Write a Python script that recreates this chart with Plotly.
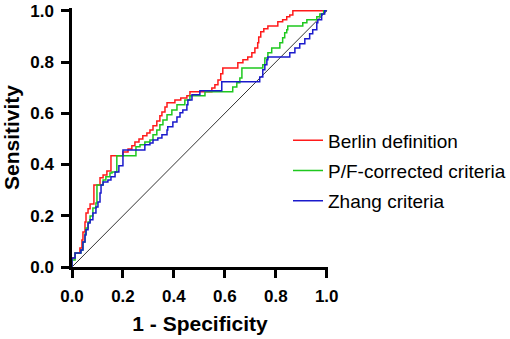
import plotly.graph_objects as go

# ROC curves (1 - specificity, sensitivity)
berlin_fpr = [0, 0, 0.012, 0.031, 0.039, 0.043, 0.051, 0.055, 0.063, 0.071, 0.086, 0.110, 0.122, 0.137,
              0.153, 0.200, 0.220, 0.235, 0.247, 0.263, 0.278, 0.294, 0.306, 0.318, 0.333, 0.345, 0.353,
              0.365, 0.373, 0.404, 0.427, 0.451, 0.463, 0.549, 0.561, 0.573, 0.584, 0.592, 0.651, 0.671,
              0.690, 0.706, 0.718, 0.729, 0.733, 0.741, 0.753, 0.769, 0.808, 0.827, 0.843, 0.855, 0.867, 1.0]
berlin_tpr = [0, 0.035, 0.055, 0.074, 0.105, 0.137, 0.176, 0.211, 0.227, 0.246, 0.320, 0.348, 0.359, 0.375,
              0.434, 0.449, 0.461, 0.473, 0.488, 0.500, 0.512, 0.523, 0.535, 0.551, 0.570, 0.590, 0.605,
              0.625, 0.641, 0.652, 0.660, 0.668, 0.684, 0.699, 0.711, 0.730, 0.754, 0.777, 0.797, 0.809,
              0.820, 0.836, 0.855, 0.875, 0.898, 0.918, 0.930, 0.941, 0.957, 0.965, 0.977, 0.984, 1.0, 1.0]

pf_fpr = [0, 0, 0.012, 0.035, 0.043, 0.051, 0.055, 0.063, 0.071, 0.082, 0.094, 0.098, 0.122, 0.133, 0.149,
          0.157, 0.176, 0.251, 0.267, 0.286, 0.306, 0.318, 0.333, 0.345, 0.357, 0.373, 0.392, 0.412, 0.443,
          0.463, 0.522, 0.631, 0.647, 0.659, 0.667, 0.749, 0.757, 0.769, 0.784, 0.816, 0.827, 0.835, 0.843,
          0.847, 0.906, 0.922, 0.961, 0.973, 0.988, 1.0]
pf_tpr = [0, 0.027, 0.055, 0.066, 0.098, 0.129, 0.152, 0.176, 0.199, 0.230, 0.250, 0.320, 0.340, 0.352, 0.367,
          0.371, 0.434, 0.469, 0.477, 0.488, 0.496, 0.516, 0.535, 0.555, 0.574, 0.594, 0.613, 0.633, 0.652,
          0.668, 0.684, 0.703, 0.719, 0.738, 0.777, 0.789, 0.816, 0.836, 0.855, 0.875, 0.895, 0.914, 0.926,
          0.941, 0.953, 0.965, 0.977, 0.988, 1.0, 1.0]

zhang_fpr = [0, 0, 0.012, 0.035, 0.043, 0.051, 0.055, 0.063, 0.071, 0.082, 0.094, 0.102, 0.110, 0.114, 0.122,
             0.141, 0.153, 0.169, 0.184, 0.200, 0.286, 0.306, 0.318, 0.337, 0.353, 0.373, 0.376, 0.396, 0.412,
             0.424, 0.435, 0.451, 0.455, 0.471, 0.502, 0.588, 0.737, 0.749, 0.757, 0.765, 0.769, 0.855, 0.875,
             0.894, 0.914, 0.933, 0.945, 0.961, 0.965, 0.980, 0.992, 1.0]
zhang_tpr = [0, 0.035, 0.055, 0.066, 0.098, 0.125, 0.145, 0.172, 0.184, 0.211, 0.234, 0.254, 0.289, 0.320, 0.332,
             0.340, 0.352, 0.371, 0.395, 0.457, 0.477, 0.484, 0.496, 0.504, 0.516, 0.535, 0.547, 0.566, 0.586,
             0.602, 0.613, 0.633, 0.652, 0.672, 0.688, 0.723, 0.742, 0.770, 0.789, 0.809, 0.820, 0.836, 0.855,
             0.871, 0.891, 0.910, 0.926, 0.953, 0.965, 0.988, 1.0, 1.0]

ref_line = [0, 1]
tick_vals = [0, 0.2, 0.4, 0.6, 0.8, 1.0]
tick_text = ["0.0", "0.2", "0.4", "0.6", "0.8", "1.0"]

FONT = "Arial, 'Liberation Sans', sans-serif"
W, H = 510, 339

fig = go.Figure()
fig.add_trace(go.Scatter(x=ref_line, y=ref_line, mode="lines", showlegend=False,
                         line=dict(color="#333333", width=1)))
fig.add_trace(go.Scatter(x=berlin_fpr, y=berlin_tpr, mode="lines", name="Berlin definition",
                         legendgroup="a", line=dict(color="#FF1A1A", width=1.5, shape="hv")))
fig.add_trace(go.Scatter(x=pf_fpr, y=pf_tpr, mode="lines", name="P/F-corrected criteria",
                         legendgroup="b", line=dict(color="#1EC81E", width=1.5, shape="hv")))
fig.add_trace(go.Scatter(x=zhang_fpr, y=zhang_tpr, mode="lines", name="Zhang criteria",
                         legendgroup="c", line=dict(color="#1A1ACC", width=1.5, shape="hv")))

axis_common = dict(showgrid=False, zeroline=False, showline=True, linecolor="black", linewidth=2.5,
                   ticks="outside", ticklen=8, tickwidth=2.5, tickcolor="black",
                   tickvals=tick_vals, ticktext=tick_text, ticklabelstandoff=4,
                   tickfont=dict(family=FONT, size=17, color="black", weight="bold"))

fig.update_layout(
    width=W, height=H,
    margin=dict(l=72, r=181.7, t=8.2, b=72, autoexpand=False),
    plot_bgcolor="white", paper_bgcolor="white",
    xaxis=dict(range=[0, 1.005], title=dict(text="1 - Specificity", standoff=12,
               font=dict(family=FONT, size=21, color="black", weight="bold")), **axis_common),
    yaxis=dict(range=[0, 1.011], title=dict(text="Sensitivity", standoff=10,
               font=dict(family=FONT, size=21, color="black", weight="bold")), **axis_common),
    legend=dict(xref="container", yref="container", x=288 / W, xanchor="left",
                y=1 - 171 / H, yanchor="middle", bgcolor="rgba(0,0,0,0)",
                font=dict(family=FONT, size=19, color="black"), itemwidth=30,
                tracegroupgap=2.5),
)

# remove the browser's default 8px body margin so the figure sits at the window origin
fig.write_html("out.html", config={"displayModeBar": False},
               post_script="document.body.style.margin='0px';")
